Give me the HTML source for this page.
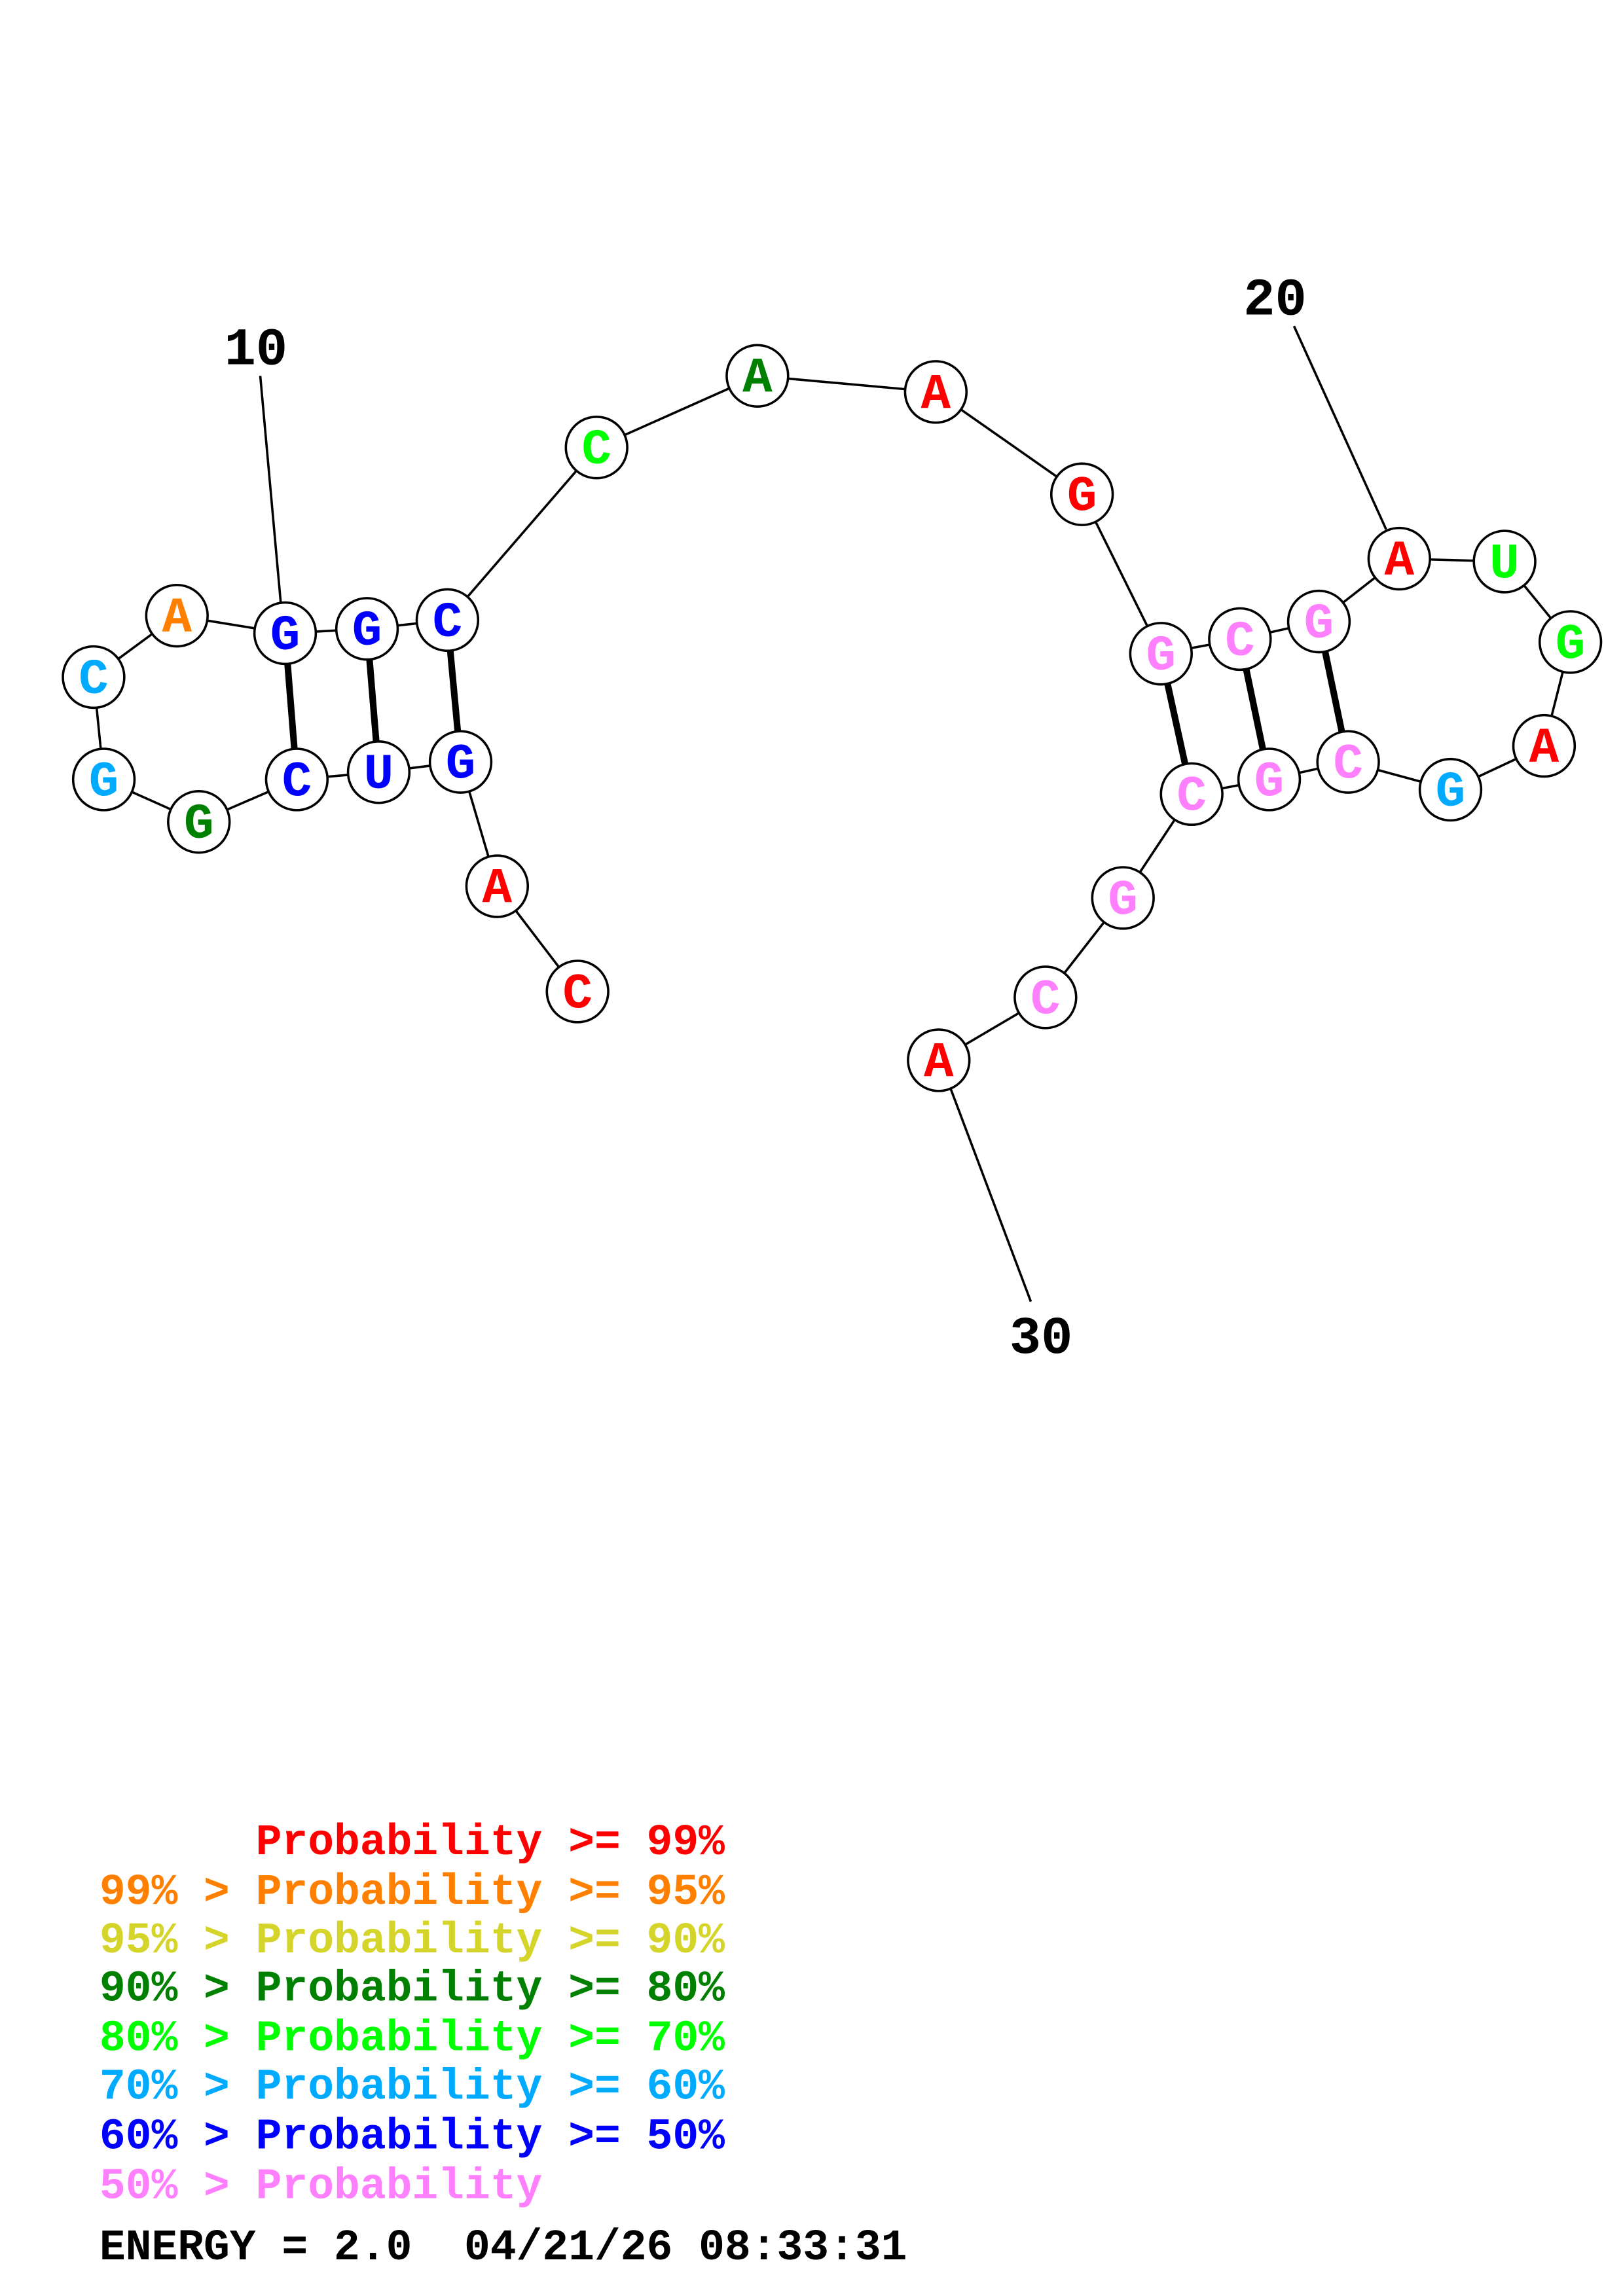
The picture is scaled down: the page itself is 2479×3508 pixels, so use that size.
<!DOCTYPE html>
<html><head><meta charset="utf-8"><style>html,body{margin:0;padding:0;background:#fff}svg{display:block}.pre text{white-space:pre}</style></head>
<body>
<svg xmlns="http://www.w3.org/2000/svg" width="2479" height="3508" viewBox="0 0 1110 1570" preserveAspectRatio="none">
<rect width="1110" height="1570" fill="#fff"/>
<g stroke="#000" stroke-width="1.6" fill="none">
<polyline points="395,678 340,606 315,521 259,528 203,533 136,562 71,533 64,463 121,421 195,433 251,430 306,424 408,306 518,257 640,268 740,338 794,447 848,437 902,425 957,382 1029,384 1074,439 1056,510 992,540 922,521 868,533 815,543 768,614 715,682 642,725"/>
<line x1="178" y1="257" x2="192" y2="412"/>
<line x1="885" y1="223" x2="948" y2="362"/>
<line x1="705" y1="890" x2="650" y2="744"/>
</g>
<g stroke="#000" stroke-width="4.5">
<line x1="315" y1="521" x2="306" y2="424"/>
<line x1="259" y1="528" x2="251" y2="430"/>
<line x1="203" y1="533" x2="195" y2="433"/>
<line x1="794" y1="447" x2="815" y2="543"/>
<line x1="848" y1="437" x2="868" y2="533"/>
<line x1="902" y1="425" x2="922" y2="521"/>
</g>
<g stroke="#000" stroke-width="1.6" fill="#fff">
<circle cx="395" cy="678" r="21"/><circle cx="340" cy="606" r="21"/><circle cx="315" cy="521" r="21"/><circle cx="259" cy="528" r="21"/><circle cx="203" cy="533" r="21"/><circle cx="136" cy="562" r="21"/><circle cx="71" cy="533" r="21"/><circle cx="64" cy="463" r="21"/><circle cx="121" cy="421" r="21"/><circle cx="195" cy="433" r="21"/><circle cx="251" cy="430" r="21"/><circle cx="306" cy="424" r="21"/><circle cx="408" cy="306" r="21"/><circle cx="518" cy="257" r="21"/><circle cx="640" cy="268" r="21"/><circle cx="740" cy="338" r="21"/><circle cx="794" cy="447" r="21"/><circle cx="848" cy="437" r="21"/><circle cx="902" cy="425" r="21"/><circle cx="957" cy="382" r="21"/><circle cx="1029" cy="384" r="21"/><circle cx="1074" cy="439" r="21"/><circle cx="1056" cy="510" r="21"/><circle cx="992" cy="540" r="21"/><circle cx="922" cy="521" r="21"/><circle cx="868" cy="533" r="21"/><circle cx="815" cy="543" r="21"/><circle cx="768" cy="614" r="21"/><circle cx="715" cy="682" r="21"/><circle cx="642" cy="725" r="21"/>
</g>
<g font-family="Liberation Mono, monospace" font-weight="bold" font-size="34" text-anchor="middle" dominant-baseline="central">
<text x="395" y="680" fill="#f00">C</text>
<text x="340" y="608" fill="#f00">A</text>
<text x="315" y="523" fill="#00f">G</text>
<text x="259" y="530" fill="#00f">U</text>
<text x="203" y="535" fill="#00f">C</text>
<text x="136" y="564" fill="#008000">G</text>
<text x="71" y="535" fill="#00aaff">G</text>
<text x="64" y="465" fill="#00aaff">C</text>
<text x="121" y="423" fill="#ff8000">A</text>
<text x="195" y="435" fill="#00f">G</text>
<text x="251" y="432" fill="#00f">G</text>
<text x="306" y="426" fill="#00f">C</text>
<text x="408" y="308" fill="#00ff00">C</text>
<text x="518" y="259" fill="#008000">A</text>
<text x="640" y="270" fill="#f00">A</text>
<text x="740" y="340" fill="#f00">G</text>
<text x="794" y="449" fill="#ff80ff">G</text>
<text x="848" y="439" fill="#ff80ff">C</text>
<text x="902" y="427" fill="#ff80ff">G</text>
<text x="957" y="384" fill="#f00">A</text>
<text x="1029" y="386" fill="#00ff00">U</text>
<text x="1074" y="441" fill="#00ff00">G</text>
<text x="1056" y="512" fill="#f00">A</text>
<text x="992" y="542" fill="#00aaff">G</text>
<text x="922" y="523" fill="#ff80ff">C</text>
<text x="868" y="535" fill="#ff80ff">G</text>
<text x="815" y="545" fill="#ff80ff">C</text>
<text x="768" y="616" fill="#ff80ff">G</text>
<text x="715" y="684" fill="#ff80ff">C</text>
<text x="642" y="727" fill="#f00">A</text>
</g>
<g font-family="Liberation Mono, monospace" font-weight="bold" font-size="36" text-anchor="middle" fill="#000">
<text x="175" y="249">10</text>
<text x="872" y="215">20</text>
<text x="712" y="925">30</text>
</g>
<g class="pre" font-family="Liberation Mono, monospace" font-weight="bold" font-size="29.7">
<text x="68" y="1268" fill="#f00">      Probability &gt;= 99%</text>
<text x="68" y="1302" fill="#ff8000">99% &gt; Probability &gt;= 95%</text>
<text x="68" y="1335" fill="#d4d42a">95% &gt; Probability &gt;= 90%</text>
<text x="68" y="1368" fill="#008000">90% &gt; Probability &gt;= 80%</text>
<text x="68" y="1402" fill="#00ff00">80% &gt; Probability &gt;= 70%</text>
<text x="68" y="1435" fill="#00aaff">70% &gt; Probability &gt;= 60%</text>
<text x="68" y="1469" fill="#00f">60% &gt; Probability &gt;= 50%</text>
<text x="68" y="1503" fill="#ff80ff">50% &gt; Probability</text>
<text x="68" y="1545" fill="#000">ENERGY = 2.0  04/21/26 08:33:31</text>
</g>
</svg>
</body></html>
